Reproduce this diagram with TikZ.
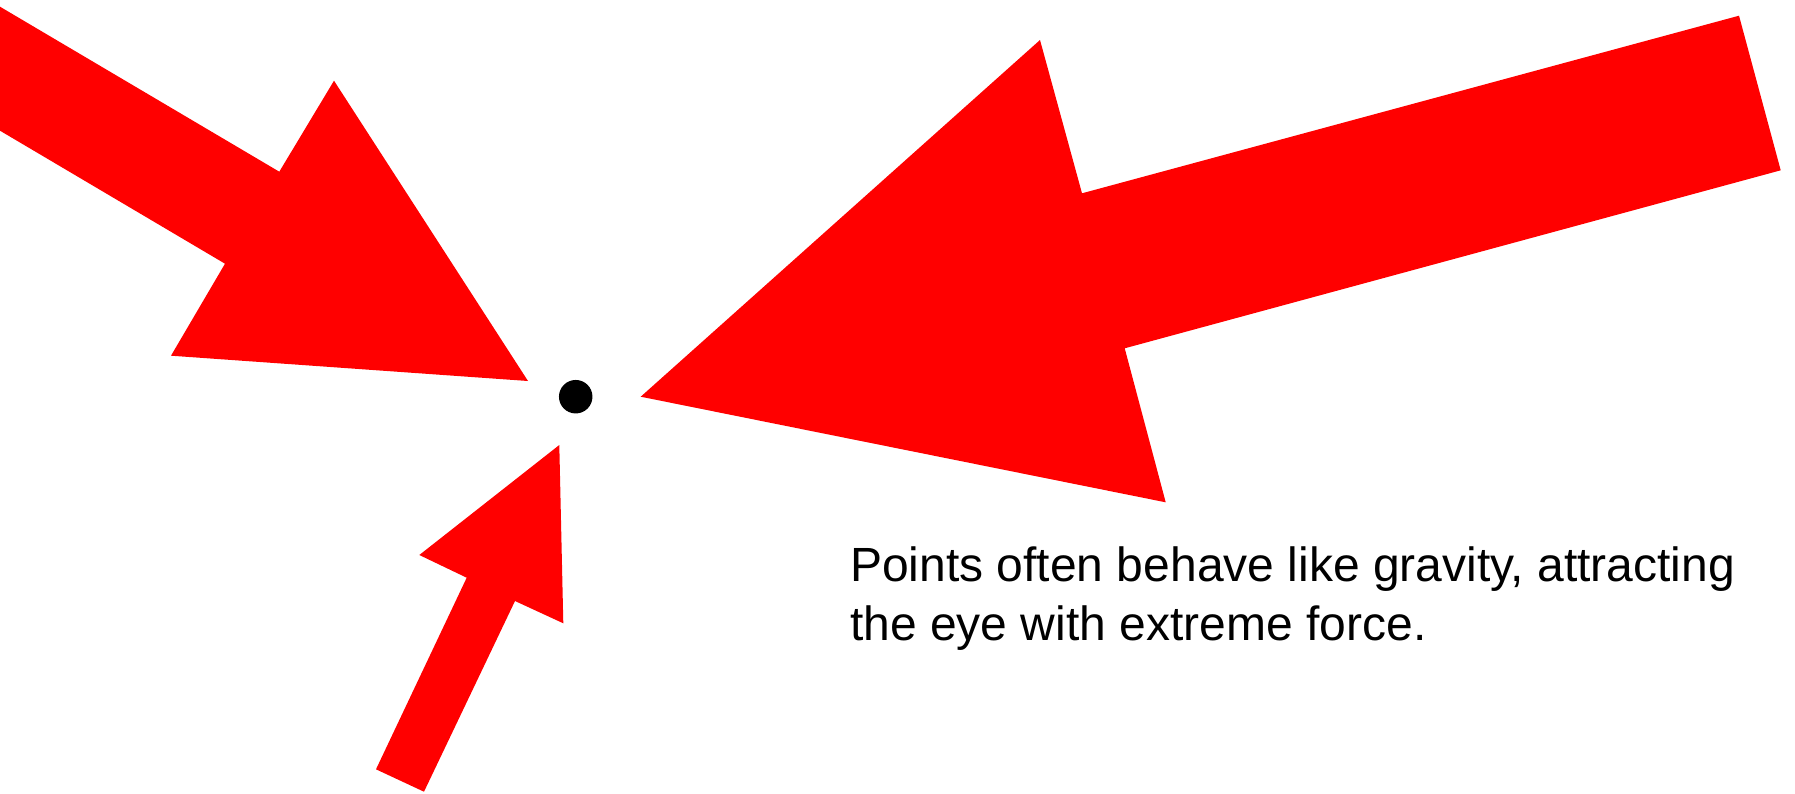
\documentclass[tikz,border=0pt]{standalone}
\usepackage{fontspec}
\setmainfont{Liberation Sans}
\begin{document}
\begin{tikzpicture}[x=1pt,y=-1pt,
  arrowshape/.style={fill={rgb,255:red,255;green,0;blue,0}},
  textline/.style={font=\fontsize{48}{58}\selectfont, inner sep=0pt, anchor=base west}]
\useasboundingbox (0,0) rectangle (1795,793);
% top-left arrow
\fill[arrowshape] (0,6.7) -- (279.3,171.7) -- (334,80.7) -- (528,381) -- (171,355.7) -- (225,263.7) -- (0,130.7) -- cycle;
% large right arrow
\fill[arrowshape] (1739,15.7) -- (1780.7,170.3) -- (1124.7,348.3) -- (1165.7,502.3) -- (640.7,396.7) -- (1040,40) -- (1082,193.3) -- cycle;
% bottom arrow
\fill[arrowshape] (376,769.3) -- (424,791.7) -- (515,601) -- (563.3,623.3) -- (559.3,445) -- (419.3,555) -- (466.7,577.7) -- cycle;
% the point
\node[circle, fill=black, minimum size=33.5pt, inner sep=0pt] (dot) at (575.7,396.7) {};
% caption
\node[textline] (line1) at (850,581.7) {Points often behave like gravity, attracting};
\node[textline] (line2) at (850,640) {the eye with extreme force.};
\end{tikzpicture}
\end{document}
